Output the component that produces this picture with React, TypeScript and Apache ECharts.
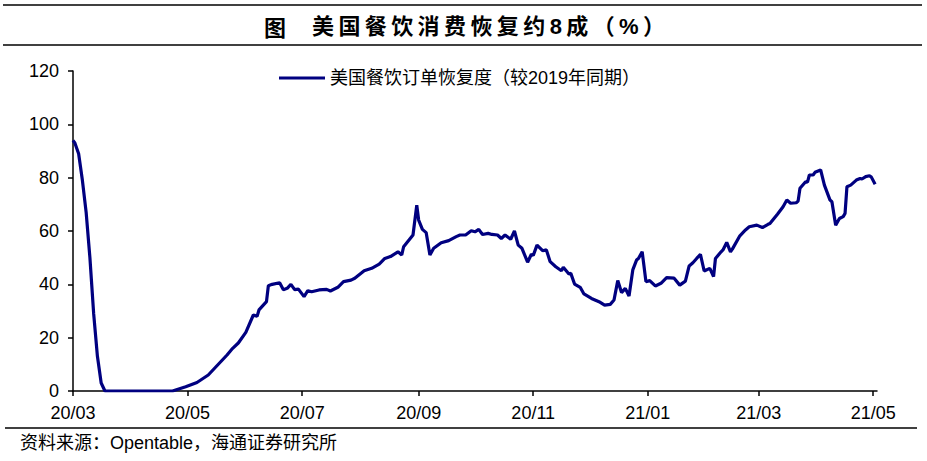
import React, { useEffect, useRef } from "react";
import * as echarts from "echarts";

const seriesName = "美国餐饮订单恢复度（较2019年同期）";
const titleText = "美国餐饮消费恢复约8成（%）";
const sourceText = "资料来源：Opentable，海通证券研究所";

const startDate = "2020-03-01";
const endDate = "2021-05-03";

const tickDates = [
  "2020-03-01", "2020-05-01", "2020-07-01", "2020-09-01",
  "2020-11-01", "2021-01-01", "2021-03-01", "2021-05-01",
];

const dates = [
  "2020-03-01", "2020-03-02", "2020-03-04", "2020-03-06", "2020-03-08", "2020-03-10",
  "2020-03-12", "2020-03-14", "2020-03-16", "2020-03-18", "2020-04-23", "2020-04-30",
  "2020-05-06", "2020-05-12", "2020-05-16", "2020-05-22", "2020-05-25", "2020-05-28",
  "2020-06-01", "2020-06-05", "2020-06-07", "2020-06-08", "2020-06-12", "2020-06-13",
  "2020-06-15", "2020-06-19", "2020-06-21", "2020-06-23", "2020-06-25", "2020-06-27",
  "2020-06-29", "2020-07-02", "2020-07-04", "2020-07-06", "2020-07-10", "2020-07-14",
  "2020-07-16", "2020-07-20", "2020-07-23", "2020-07-27", "2020-07-29", "2020-08-03",
  "2020-08-07", "2020-08-11", "2020-08-14", "2020-08-17", "2020-08-21", "2020-08-23",
  "2020-08-24", "2020-08-29", "2020-08-31", "2020-09-01", "2020-09-03", "2020-09-05",
  "2020-09-07", "2020-09-09", "2020-09-13", "2020-09-17", "2020-09-21", "2020-09-23",
  "2020-09-26", "2020-09-29", "2020-10-01", "2020-10-03", "2020-10-05", "2020-10-08",
  "2020-10-10", "2020-10-13", "2020-10-15", "2020-10-17", "2020-10-20", "2020-10-22",
  "2020-10-24", "2020-10-26", "2020-10-29", "2020-10-31", "2020-11-01", "2020-11-03",
  "2020-11-06", "2020-11-08", "2020-11-10", "2020-11-13", "2020-11-16", "2020-11-17",
  "2020-11-20", "2020-11-21", "2020-11-23", "2020-11-26", "2020-11-28", "2020-12-02",
  "2020-12-06", "2020-12-09", "2020-12-12", "2020-12-14", "2020-12-16", "2020-12-18",
  "2020-12-20", "2020-12-22", "2020-12-24", "2020-12-26", "2020-12-27", "2020-12-29",
  "2020-12-31", "2021-01-02", "2021-01-05", "2021-01-08", "2021-01-11", "2021-01-15",
  "2021-01-18", "2021-01-21", "2021-01-23", "2021-01-25", "2021-01-27", "2021-01-29",
  "2021-01-31", "2021-02-03", "2021-02-05", "2021-02-06", "2021-02-09", "2021-02-10",
  "2021-02-12", "2021-02-14", "2021-02-15", "2021-02-19", "2021-02-22", "2021-02-24",
  "2021-02-28", "2021-03-03", "2021-03-06", "2021-03-07", "2021-03-11", "2021-03-14",
  "2021-03-16", "2021-03-18", "2021-03-21", "2021-03-22", "2021-03-23", "2021-03-26",
  "2021-03-27", "2021-03-28", "2021-03-30", "2021-03-31", "2021-04-03", "2021-04-05",
  "2021-04-08", "2021-04-09", "2021-04-11", "2021-04-13", "2021-04-15", "2021-04-16",
  "2021-04-17", "2021-04-19", "2021-04-22", "2021-04-24", "2021-04-25", "2021-04-27",
  "2021-04-29", "2021-04-30", "2021-05-02",
];

const values = [
  94, 93, 89, 79, 67, 50,
  29, 13, 3, 0, 0, 1.6,
  3.2, 6, 9, 13.5, 16, 18,
  22, 28.5, 28, 30.4, 33.5, 39.5,
  40, 40.6, 38, 38.5, 40, 38,
  38.2, 35.4, 37.6, 37.2, 37.9, 38.1,
  37.5, 38.9, 41, 41.6, 42.3, 45.1,
  46, 47.6, 49.7, 50.4, 52.2, 51,
  54.1, 58.5, 69.7, 64.1, 60.6, 59.4,
  51, 53.5, 55.6, 56.4, 57.9, 58.5,
  58.5, 60.1, 59.7, 60.6, 58.7, 59.1,
  58.7, 58.5, 57.2, 58.5, 56.9, 60,
  54.7, 53.5, 48.3, 51.3, 50.8, 54.7,
  52.6, 52.9, 48.5, 46.6, 45.1, 46.4,
  43.9, 44.1, 40.1, 38.9, 36.4, 34.7,
  33.5, 32.2, 32.5, 34.1, 41.4, 36.9,
  38.5, 35.6, 45.4, 49.1, 49.7, 52.2,
  41, 41.4, 39.4, 40.4, 42.5, 42.3,
  39.7, 41.2, 46.9, 48.1, 49.7, 51.2,
  45, 46, 42.9, 49.7, 52.2, 52.9,
  55.7, 52.2, 53.2, 58.2, 60.4, 61.6,
  62.2, 61.3, 62.5, 62.8, 66.3, 69.1,
  71.6, 70.4, 70.6, 71.2, 76, 78.5,
  78.3, 81, 81, 82, 82.9, 77.2,
  71.6, 71, 62.2, 64.7, 65.4, 66.6,
  76.6, 77.2, 79.1, 79.7, 79.5, 80.4,
  80.7, 80.2, 77.5,
];

const DAY = 86400000;
const toUtc = (d: string) => {
  const [y, m, dd] = d.split("-").map(Number);
  return Date.UTC(y, m - 1, dd);
};
const dayIndex = (d: string) => Math.round((toUtc(d) - toUtc(startDate)) / DAY);
const dayLabel = (n: number) => {
  const d = new Date(toUtc(startDate) + Math.round(n) * DAY);
  return (
    String(d.getUTCFullYear()).slice(2) +
    "/" +
    String(d.getUTCMonth() + 1).padStart(2, "0")
  );
};

// widen CJK titles a little with thin spaces between characters
const spaced = (s: string) => Array.from(s).join("\u2009");

const LATIN = "'Liberation Sans', Arial, 'Noto Sans CJK SC', sans-serif";

export default function App() {
  const ref = useRef<HTMLDivElement>(null);

  useEffect(() => {
    if (!ref.current) return;
    const chart = echarts.init(ref.current, undefined, { renderer: "svg" });
    const tickIdx = tickDates.map(dayIndex);
    chart.setOption({
      animation: false,
      backgroundColor: "#ffffff",
      grid: { left: 73, right: 50, top: 71, bottom: 70, containLabel: false },
      legend: {
        show: true,
        left: 279,
        top: 69,
        padding: 0,
        itemWidth: 46,
        itemHeight: 3,
        icon: "rect",
        textStyle: { fontSize: 18, color: "#000", fontFamily: LATIN },
        data: [{ name: seriesName, itemStyle: { color: "#000080" } }],
      },
      xAxis: {
        type: "value",
        min: 0,
        max: dayIndex(endDate),
        axisLine: { show: true, lineStyle: { color: "#000", width: 1.5 } },
        axisTick: {
          show: true,
          inside: false,
          length: 5,
          customValues: tickIdx,
          lineStyle: { color: "#000", width: 1.5 },
        },
        axisLabel: {
          show: true,
          customValues: tickIdx,
          fontSize: 18,
          color: "#000",
          fontFamily: LATIN,
          margin: 13,
          formatter: (v: number) => dayLabel(v),
        },
        splitLine: { show: false },
      },
      yAxis: {
        type: "value",
        min: 0,
        max: 120,
        interval: 20,
        axisLine: { show: true, lineStyle: { color: "#000", width: 1.5 } },
        axisTick: { show: true, inside: false, length: 5, lineStyle: { color: "#000", width: 1.5 } },
        axisLabel: {
          fontSize: 18,
          color: "#000",
          fontFamily: LATIN,
          margin: 14,
        },
        splitLine: { show: false },
      },
      series: [
        {
          name: seriesName,
          type: "line",
          data: dates.map((d, i) => [dayIndex(d), values[i]]),
          showSymbol: false,
          symbol: "none",
          smooth: false,
          lineStyle: { color: "#000080", width: 3.2 },
          itemStyle: { color: "#000080" },
        },
      ],
      graphic: [
        { type: "line", shape: { x1: 3, y1: 5, x2: 922, y2: 5 }, style: { stroke: "#000", lineWidth: 1.5 } },
        { type: "line", shape: { x1: 3, y1: 45, x2: 922, y2: 45 }, style: { stroke: "#000", lineWidth: 1.5 } },
        { type: "line", shape: { x1: 5, y1: 428, x2: 917, y2: 428 }, style: { stroke: "#000", lineWidth: 1.5 } },
        {
          type: "text",
          left: 264,
          top: 15,
          style: {
            text: "图",
            fontSize: 22,
            fontWeight: "bold",
            fill: "#000",
            fontFamily: "'Noto Sans CJK SC', sans-serif",
          },
        },
        {
          type: "text",
          left: 312,
          top: 15,
          style: {
            text: spaced(titleText),
            fontSize: 22,
            fontWeight: "bold",
            fill: "#000",
            fontFamily: "'Liberation Sans', 'Noto Sans CJK SC', sans-serif",
          },
        },
        {
          type: "text",
          left: 20,
          top: 434,
          style: {
            text: sourceText,
            fontSize: 18,
            fill: "#000",
            fontFamily: LATIN,
          },
        },
      ],
    });
    return () => chart.dispose();
  }, []);

  return (
    <div
      ref={ref}
      style={{ position: "fixed", left: 0, top: 0, width: 927, height: 461, background: "#fff" }}
    />
  );
}
